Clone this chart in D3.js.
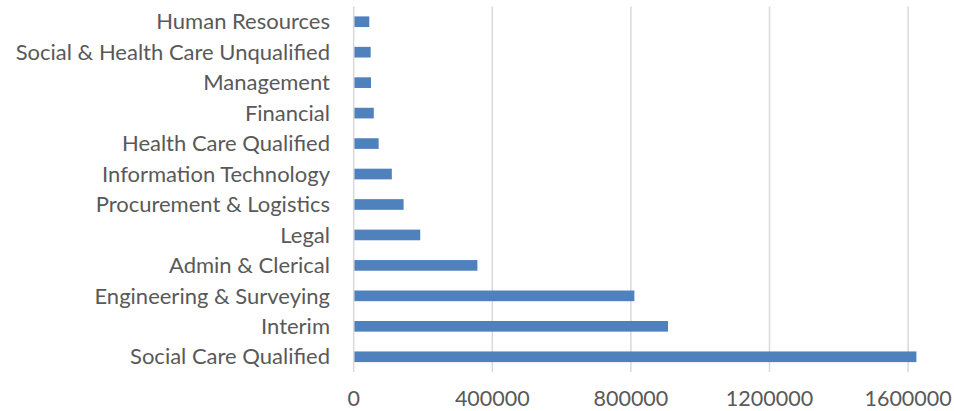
<!DOCTYPE html>
<html>
<head>
<meta charset="utf-8">
<script src="https://cdn.jsdelivr.net/npm/d3@7"></script>
<style>
  body { margin: 0; background: #fff; }
  svg text { font-family: Lato, "Open Sans", sans-serif; fill: #595959; }
</style>
</head>
<body>
<svg id="chart" width="954" height="411"></svg>
<script>
// categories, top to bottom
const categories = [
  "Human Resources",
  "Social & Health Care Unqualified",
  "Management",
  "Financial",
  "Health Care Qualified",
  "Information Technology",
  "Procurement & Logistics",
  "Legal",
  "Admin & Clerical",
  "Engineering & Surveying",
  "Interim",
  "Social Care Qualified"
];
const values = [45000, 49000, 50000, 58000, 72000, 110000, 144000, 192000, 357000, 810000, 907000, 1624000];
const xTicks = [0, 400000, 800000, 1200000, 1600000];

const svg = d3.select("#chart");
const plotLeft = 353.7, plotTop = 6.5, plotBottom = 372;

const x = d3.scaleLinear().domain([0, 1600000]).range([plotLeft, 908.1]);
const y = d3.scaleBand().domain(categories).range([plotTop, plotBottom]).paddingInner(0.65).paddingOuter(0.325);

// gridlines
svg.append("g").selectAll("line")
  .data(xTicks)
  .join("line")
  .attr("x1", d => x(d)).attr("x2", d => x(d))
  .attr("y1", plotTop).attr("y2", plotBottom)
  .attr("stroke", "#d9d9d9")
  .attr("stroke-width", 1.5);

// bars
svg.append("g").selectAll("rect")
  .data(categories)
  .join("rect")
  .attr("x", x(0) + 0.75)
  .attr("y", d => y(d))
  .attr("width", (d, i) => x(values[i]) - x(0) - 0.75)
  .attr("height", y.bandwidth())
  .attr("fill", "#4f81bd");

// category labels
svg.append("g").selectAll("text")
  .data(categories)
  .join("text")
  .attr("x", 330)
  .attr("y", d => y(d) + y.bandwidth() / 2)
  .attr("dy", "0.35em")
  .attr("text-anchor", "end")
  .style("font-size", "22px")
  .text(d => d);

// x tick labels
svg.append("g").selectAll("text")
  .data(xTicks)
  .join("text")
  .attr("x", d => x(d))
  .attr("y", 406)
  .attr("text-anchor", "middle")
  .style("font-size", "21.5px")
  .text(d => d);
</script>
</body>
</html>
